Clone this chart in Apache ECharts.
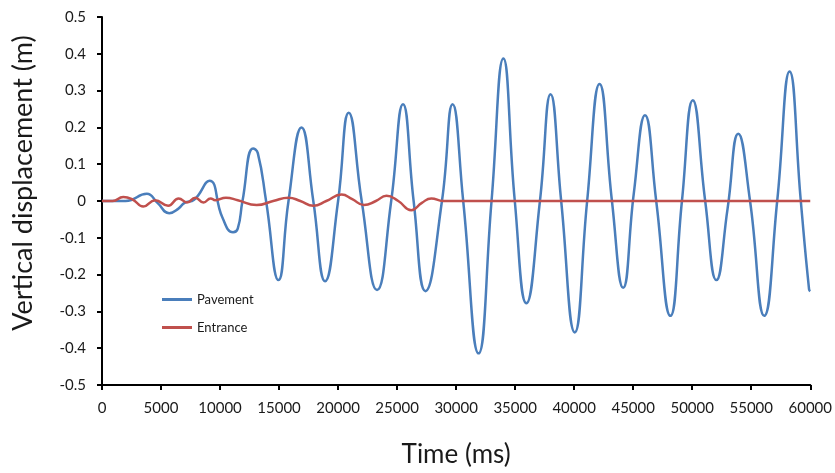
<!DOCTYPE html>
<html>
<head>
<meta charset="utf-8">
<script src="https://cdn.jsdelivr.net/npm/echarts@6/dist/echarts.min.js"></script>
<style>
  html, body { margin: 0; padding: 0; background: #fff; }
  #chart { width: 835px; height: 473px; }
</style>
</head>
<body>
<div id="chart"></div>
<script>
// values
const pavementTime = [0, 2000, 3800, 4700, 5700, 6500, 7000, 7800, 9100, 10200, 11100, 11500, 11900, 12800, 13200, 13900,
  14950, 15800, 16900, 17900, 18900, 20000, 20900, 22000, 23300, 24500, 25500, 26400, 27400, 28800, 29700, 30600,
  31900, 33000, 34000, 34970, 35950, 37100, 38000, 38900, 40050, 41100, 42150, 43200, 44150, 45050, 46000, 46950,
  48150, 49130, 50050, 51100, 52050, 53000, 53900, 54900, 56100, 57200, 58250, 59200, 59900, 60000]
const pavementDisp = [0, 0, 0.02, -0.005, -0.033, -0.02, -0.005, 0.003, 0.055, -0.045, -0.085, -0.075, 0.0, 0.143, 0.13, 0.0,
  -0.215, 0.0, 0.2, 0.0, -0.218, 0.0, 0.24, 0.0, -0.242, 0.0, 0.263, 0.0, -0.245, 0.0, 0.263, 0.0,
  -0.414, 0.0, 0.387, 0.0, -0.278, 0.0, 0.29, 0.0, -0.357, 0.0, 0.318, 0.0, -0.236, 0.02, 0.233, 0.0,
  -0.312, 0.0, 0.274, 0.0, -0.215, -0.02, 0.183, 0.0, -0.312, 0.0, 0.352, 0.0, -0.24, -0.245]

const entranceTime = [0, 900, 1800, 2600, 3500, 4500, 5600, 6500, 7200, 7900, 8600, 9200, 9600, 10500, 11500, 13100,
  14500, 15800, 16800, 17900, 19000, 20300, 21200, 22200, 23200, 24100, 25100, 26200, 27100, 27900, 28900, 60000]
const entranceDisp = [0, 0, 0.011, 0.004, -0.015, 0.002, -0.013, 0.007, -0.004, 0.009, -0.004, 0.007, 0.002, 0.009, 0.002, -0.011,
  0.0, 0.009, 0.0, -0.013, 0.0, 0.0175, 0.005, -0.011, 0.0, 0.014, 0.0, -0.025, -0.005, 0.007, 0.0, 0]

const yTicks = [-0.5, -0.4, -0.3, -0.2, -0.1, 0, 0.1, 0.2, 0.3, 0.4, 0.5]
const xTicks = [0, 5000, 10000, 15000, 20000, 25000, 30000, 35000, 40000, 45000, 50000, 55000, 60000]

const FONT = 'Lato'
const chart = echarts.init(document.getElementById('chart'))

const pair = (ts, vs) => ts.map((t, i) => [t, vs[i]])

chart.setOption({
  animation: false,
  grid: { left: 102, right: 22, top: 17, bottom: 85, containLabel: false },
  legend: {
    orient: 'vertical',
    left: 157,
    top: 288,
    icon: 'rect',
    itemWidth: 30,
    itemHeight: 3,
    itemGap: 15,
    textStyle: { fontFamily: FONT, fontSize: 13, color: '#1a1a1a' },
    data: ['Pavement', 'Entrance']
  },
  xAxis: {
    type: 'value',
    min: xTicks[0],
    max: xTicks[xTicks.length - 1],
    interval: 5000,
    name: 'Time (ms)',
    nameLocation: 'middle',
    nameGap: 57,
    nameTextStyle: { fontFamily: FONT, fontSize: 26, color: '#1a1a1a' },
    axisLine: { onZero: false, lineStyle: { color: '#000', width: 2 } },
    axisTick: { show: true, length: 5, lineStyle: { color: '#000', width: 2 } },
    axisLabel: { fontFamily: FONT, fontSize: 15, color: '#1a1a1a', margin: 16, formatter: v => String(v) },
    splitLine: { show: false }
  },
  yAxis: {
    type: 'value',
    min: yTicks[0],
    max: yTicks[yTicks.length - 1],
    interval: 0.1,
    name: 'Vertical displacement (m)',
    nameLocation: 'middle',
    nameGap: 65,
    nameTextStyle: { fontFamily: FONT, fontSize: 27, color: '#1a1a1a', padding: [0, 0, 0, 36] },
    axisLine: { show: true, lineStyle: { color: '#000', width: 2 } },
    axisTick: { show: true, length: 5, lineStyle: { color: '#000', width: 2 } },
    axisLabel: {
      fontFamily: FONT, fontSize: 15, color: '#1a1a1a', margin: 16,
      formatter: v => Math.abs(v) < 1e-9 ? '0' : v.toFixed(1)
    },
    splitLine: { show: false }
  },
  series: [
    {
      name: 'Pavement',
      type: 'line',
      data: pair(pavementTime, pavementDisp),
      smooth: 0.5,
      symbol: 'none',
      lineStyle: { color: '#4A7EBB', width: 2.5 },
      itemStyle: { color: '#4A7EBB' }
    },
    {
      name: 'Entrance',
      type: 'line',
      data: pair(entranceTime, entranceDisp),
      smooth: 0.5,
      symbol: 'none',
      lineStyle: { color: '#C0504D', width: 2.5 },
      itemStyle: { color: '#C0504D' }
    }
  ]
})
</script>
</body>
</html>
